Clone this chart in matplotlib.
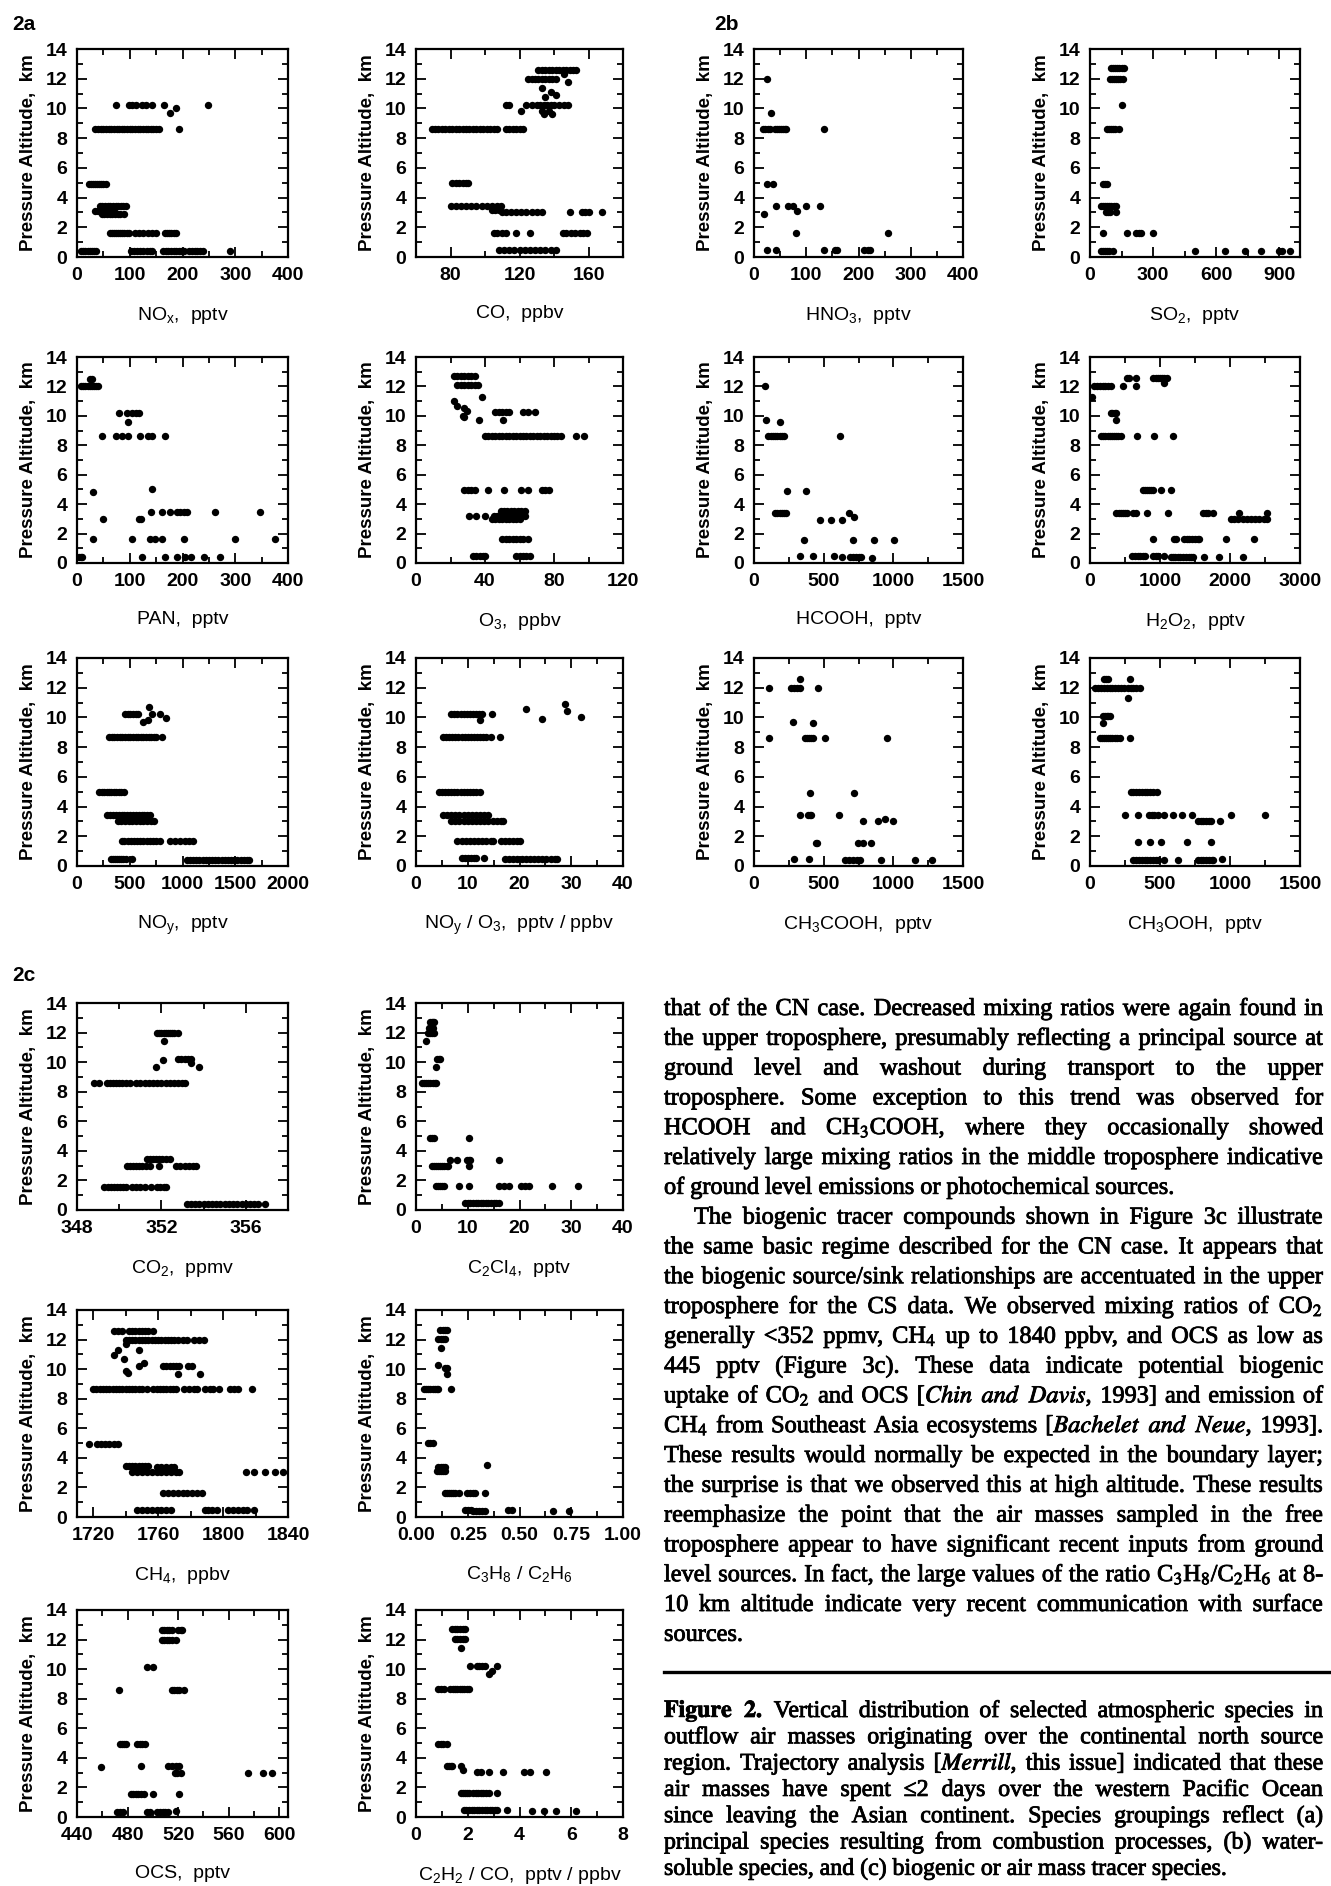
import matplotlib
matplotlib.use('Agg')
import matplotlib.pyplot as plt
import matplotlib.patheffects as pe
from matplotlib.ticker import MultipleLocator, FormatStrFormatter
from matplotlib.lines import Line2D

plt.rcParams['font.family'] = ['Liberation Sans', 'DejaVu Sans']

# ---- data: (pressure altitude km, [mixing ratios at that altitude]) ----
NOX = [
    (10.2, [73, 98, 104, 112, 124, 130, 143, 165, 248]),
    (10.0, [187]), (9.7, [176]),
    (8.6, [35, 40, 45, 50, 55, 60, 65, 70, 75, 80, 85, 90, 95, 100, 105, 110, 115, 120, 125,
           130, 135, 140, 145, 150, 155, 194]),
    (4.9, [22, 26, 30, 34, 38, 42, 46, 50, 55]),
    (3.45, [43, 48, 53, 58, 63, 68, 73, 78, 83, 88, 93]),
    (3.1, [35, 40, 45, 50, 55, 60, 65, 70]),
    (2.9, [47, 52, 57, 62, 67, 72, 77, 82, 89]),
    (1.6, [62, 66, 70, 74, 78, 82, 86, 90, 94, 98, 110, 118, 126, 134, 142, 150, 167, 171, 175,
           179, 183, 187]),
    (0.4, [8, 12, 16, 20, 24, 28, 32, 36, 102, 108, 114, 120, 126, 132, 138, 143, 163, 168, 173,
           178, 183, 188, 193, 198, 203, 213, 218, 223, 228, 233, 238, 290]),
]
CO = [
    (12.6, [131, 133, 135, 137, 139, 141, 143, 145, 147, 149, 151, 153]),
    (12.0, [125, 127, 129, 131, 133, 135, 137, 139, 141]),
    (12.3, [146]), (11.8, [148]), (11.4, [133]), (11.1, [138]), (10.8, [135]), (10.9, [141]),
    (10.2, [112, 114, 124, 127, 130, 132, 134, 136, 138, 140, 143, 146, 148]),
    (9.8, [121, 133, 137]), (9.65, [134, 139]),
    (8.6, [69, 71, 73, 75, 77, 79, 81, 83, 85, 87, 89, 91, 93, 95, 97, 99, 101, 103, 105, 107,
           112, 114, 116, 118, 120, 122]),
    (4.95, [81, 83, 85, 87, 89, 90]),
    (3.45, [80, 83, 86, 89, 92, 95, 98, 101, 104, 107, 109]),
    (3.15, [104, 106, 108]),
    (3.0, [110, 112, 115, 118, 121, 124, 127, 130, 133, 149, 156, 158, 160, 168]),
    (1.6, [105, 107, 110, 112, 118, 126, 145, 147, 150, 152, 155, 157, 159]),
    (0.5, [108, 111, 114, 117, 120, 123, 126, 129, 132, 135, 138, 141]),
]
HNO3 = [
    (12.0, [24]), (9.7, [32]),
    (8.6, [18, 22, 26, 30, 40, 44, 48, 52, 56, 60, 62, 134]),
    (4.9, [24, 36]),
    (3.4, [42, 66, 74, 100, 127]),
    (3.1, [83]), (2.9, [20]),
    (1.6, [81, 256]),
    (0.45, [24, 42, 134, 155, 159, 210, 218, 222]),
]
SO2 = [
    (12.7, [100, 110, 120, 130, 140, 150, 160]),
    (12.0, [94, 104, 114, 124, 134, 144, 155]),
    (10.2, [153]),
    (8.6, [80, 90, 100, 110, 120, 136]),
    (4.9, [63, 70, 80]),
    (3.45, [52, 60, 70, 80, 90, 100, 115, 125]),
    (3.0, [75, 85, 95, 125]),
    (1.6, [63, 174, 220, 232, 244, 300]),
    (0.4, [52, 62, 72, 82, 92, 110, 500, 645, 740, 815, 900, 915, 950]),
]
PAN = [
    (12.5, [25, 29]),
    (12.0, [8, 12, 16, 20, 24, 28, 32, 36, 39]),
    (10.2, [79, 95, 104, 112, 118]),
    (9.6, [97]),
    (8.6, [48, 73, 85, 97, 120, 135, 143, 166]),
    (5.0, [143]), (4.85, [31]),
    (3.45, [141, 161, 176, 190, 196, 203, 209, 261, 346]),
    (3.0, [49, 118, 121]),
    (1.6, [31, 104, 138, 147, 161, 203, 300, 376]),
    (0.4, [4, 7, 9, 124, 166, 190, 205, 217, 241, 271]),
]
O3 = [
    (12.7, [22, 24, 26, 28, 30, 32, 34]),
    (12.1, [24, 26, 28, 30, 32, 34, 36]),
    (11.3, [38.5]), (11.0, [22]), (10.7, [24]), (10.5, [28]), (10.3, [29.5]), (9.9, [28]),
    (10.0, [27]), (9.7, [36.5, 50.5]),
    (10.25, [46, 48, 50, 52, 54, 62, 65, 69]),
    (8.6, [40, 42, 44, 46, 48, 50, 52, 54, 56, 58, 60, 62, 64, 66, 68, 70, 72, 74, 76, 78, 80,
           82, 84, 92.5, 97.5]),
    (4.95, [28, 30, 32, 34, 42, 51, 61, 65, 73, 75, 77]),
    (3.2, [31, 35, 40, 45, 47, 49, 51, 53, 55, 57, 59, 61, 63]),
    (3.5, [49, 51, 53, 55, 57, 59, 61, 63]),
    (3.0, [44, 46, 48, 50, 52, 54, 56, 58, 60]),
    (1.6, [50, 52, 54, 56, 58, 60, 62, 65]),
    (0.5, [33, 35, 37, 39, 40, 58, 60, 62, 64, 66]),
]
HCOOH = [
    (12.0, [82]), (9.75, [89]), (9.6, [190]),
    (8.6, [104, 120, 136, 152, 168, 184, 200, 215, 620]),
    (4.9, [237, 373]),
    (3.4, [152, 168, 184, 200, 216, 231, 684]),
    (3.15, [715]),
    (2.95, [475, 554, 633]),
    (1.55, [358, 712, 864, 1006]),
    (0.5, [332, 573]), (0.45, [421]),
    (0.4, [633, 690, 710, 730, 750, 770]),
    (0.35, [848]),
]
H2O2 = [
    (11.3, [31]),
    (12.05, [62, 100, 140, 180, 220, 260, 300, 470]),
    (12.6, [530, 560, 656, 906, 940, 970, 1000, 1030, 1060, 1094]),
    (12.0, [656]), (12.2, [1062]),
    (10.2, [294, 320, 350, 375]), (9.7, [375]),
    (8.6, [156, 190, 220, 250, 280, 310, 340, 370, 400, 437, 675, 919, 1187]),
    (4.95, [750, 780, 810, 840, 870, 906, 1019, 1156]),
    (3.4, [375, 410, 440, 470, 500, 531, 612, 656, 812, 1112, 1612, 1650, 1690, 1750, 2125, 2531]),
    (3.0, [2019, 2060, 2120, 2180, 2240, 2300, 2360, 2420, 2480, 2531]),
    (1.6, [906, 1200, 1230, 1340, 1380, 1420, 1460, 1500, 1540, 1562, 1937, 2344]),
    (0.45, [606, 640, 680, 720, 760, 781, 906, 940, 969, 1062]),
    (0.4, [1156, 1190, 1220, 1250, 1290, 1330, 1370, 1410, 1440, 1469, 1625, 1844, 2187]),
]
NOY = [
    (10.2, [454, 480, 505, 530, 555, 577, 711, 788]),
    (10.7, [685]), (9.8, [673]), (9.7, [623]), (9.95, [846]),
    (8.65, [308, 330, 355, 380, 405, 430, 455, 480, 505, 530, 555, 580, 605, 630, 655, 680, 705,
            730, 750, 808]),
    (4.95, [212, 235, 258, 281, 304, 327, 350, 373, 396, 419, 442]),
    (3.45, [288, 315, 342, 369, 396, 423, 450, 477, 504, 531, 558, 585, 612, 639, 666, 692]),
    (3.05, [385, 420, 455, 490, 525, 560, 595, 630, 665, 700, 731]),
    (1.65, [423, 450, 480, 510, 540, 570, 600, 630, 660, 690, 720, 750, 788, 885, 930, 975, 1020,
            1060, 1096]),
    (0.5, [319, 340, 360, 380, 400, 420, 440, 462, 519]),
    (0.4, [1038, 1070, 1100, 1130, 1160, 1190, 1220, 1250, 1280, 1310, 1340, 1370, 1400, 1430,
           1460, 1490, 1520, 1550, 1580, 1610, 1635]),
]
NOY_O3 = [
    (10.2, [6.8, 7.4, 8.0, 8.6, 9.2, 9.8, 10.4, 11.0, 11.6, 12.2, 12.8, 14.6]),
    (9.8, [12.4]), (10.6, [21.2]), (9.9, [24.4]), (10.9, [28.8]), (10.4, [29.2]), (10.05, [31.8]),
    (8.65, [5.2, 5.8, 6.4, 7.0, 7.6, 8.2, 8.8, 9.4, 10.0, 10.6, 11.2, 11.8, 12.4, 13.0, 13.6,
            14.4, 16.2]),
    (4.95, [4.4, 5.0, 5.6, 6.2, 6.8, 7.4, 8.0, 8.6, 9.2, 9.8, 10.4, 11.0, 11.6, 12.4]),
    (3.45, [5.2, 6.0, 6.8, 7.6, 8.4, 9.2, 10.0, 10.8, 11.6, 12.4, 13.2, 14.0]),
    (3.05, [6.8, 7.6, 8.4, 9.2, 10.0, 10.8, 11.6, 12.4, 13.2, 14.0, 14.8, 15.6, 16.4, 16.8]),
    (1.65, [8.0, 8.8, 9.6, 10.4, 11.2, 12.0, 12.8, 13.6, 14.4, 14.8, 16.4, 17.2, 18.0, 18.8,
            19.6, 20.0]),
    (0.55, [8.8, 9.4, 10.0, 10.6, 11.2, 11.6, 13.2]),
    (0.45, [17.2, 18.0, 18.8, 19.6, 20.4, 21.2, 22.0, 22.8, 23.6, 24.4, 25.2, 26.0, 26.8, 27.2]),
]
CH3COOH = [
    (12.6, [331]),
    (12.0, [108, 268, 290, 310, 331, 459]),
    (9.7, [283]), (9.6, [420]),
    (8.6, [108, 363, 380, 395, 410, 427, 506, 952]),
    (4.9, [401, 720]),
    (3.4, [331, 389, 400, 411, 611]),
    (3.0, [783, 889, 1000]), (3.15, [943]),
    (1.55, [443, 450, 745, 783, 841]),
    (0.45, [287, 395]),
    (0.4, [650, 680, 710, 740, 761, 911, 1153, 1280]),
]
CH3OOH = [
    (12.6, [102, 115, 128, 287]),
    (12.0, [38, 60, 80, 100, 120, 140, 160, 180, 200, 220, 240, 270, 290, 310, 330, 357]),
    (11.3, [271]),
    (10.1, [92, 105, 118, 130, 143]), (9.65, [92]),
    (8.6, [70, 85, 100, 115, 130, 145, 160, 175, 190, 213, 283]),
    (4.95, [293, 310, 330, 350, 370, 390, 410, 430, 450, 478]),
    (3.4, [252, 341, 420, 440, 460, 484, 532, 596, 659, 732, 1010, 1248]),
    (3.0, [771, 790, 810, 830, 850, 866, 930]),
    (1.6, [341, 430, 510, 691, 866]),
    (0.4, [309, 330, 350, 370, 390, 410, 430, 450, 470, 484, 532, 627, 771, 790, 810, 830, 850,
           870, 882]),
    (0.5, [946]),
]
CO2 = [
    (12.0, [351.8, 351.9, 352.0, 352.1, 352.2, 352.3, 352.4, 352.5, 352.6, 352.8]),
    (11.4, [352.1]), (10.15, [352.06]), (9.65, [351.76, 353.8]),
    (10.2, [352.8, 352.95, 353.1, 353.25, 353.4]), (9.95, [353.4]),
    (8.6, [348.8, 349.05, 349.4, 349.55, 349.7, 349.85, 350.0, 350.15, 350.3, 350.5, 350.8,
           351.0, 351.2, 351.4, 351.6, 351.8, 352.0, 352.2, 352.4, 352.6, 352.8, 353.0, 353.1]),
    (3.45, [351.3, 351.45, 351.6, 351.75, 351.9, 352.05, 352.2, 352.4]),
    (3.0, [350.35, 350.5, 350.65, 350.8, 350.95, 351.1, 351.25, 351.45, 351.9, 352.7, 352.9,
           353.1, 353.3, 353.5, 353.65]),
    (1.55, [349.3, 349.45, 349.6, 349.75, 349.9, 350.05, 350.2, 350.3, 350.6, 350.8, 351.0,
            351.2, 351.5, 351.8, 351.95, 352.1, 352.2]),
    (0.4, [353.2, 353.4, 353.6, 353.8, 354.0, 354.2, 354.4, 354.6, 354.8, 355.0, 355.2, 355.4,
           355.6, 355.8, 356.0, 356.2, 356.4, 356.6, 356.9]),
]
C2CL4 = [
    (12.7, [2.7, 3.0, 3.3, 3.5]),
    (12.0, [2.3, 2.7, 3.1, 3.5]),
    (12.3, [2.5, 3.3]), (11.4, [2.0]),
    (10.2, [4.1, 4.4, 4.7]), (9.7, [3.9]),
    (8.6, [1.2, 1.6, 2.0, 2.4, 2.8, 3.2, 3.6, 3.9]),
    (4.9, [2.7, 3.1, 3.5, 10.2]),
    (3.4, [6.5, 8.0, 9.8, 10.2, 10.5, 16.0]),
    (3.0, [3.1, 3.5, 3.9, 4.3, 4.7, 5.1, 5.5, 5.9, 6.25, 10.2]),
    (1.6, [3.9, 4.3, 4.7, 5.1, 5.5, 8.4, 10.2, 16.0, 17.0, 18.0, 20.3, 21.0, 21.9, 26.2, 31.3]),
    (0.45, [9.5, 10.0, 10.5, 11.0, 11.5, 12.0, 12.5, 13.0, 13.5, 14.0, 14.5, 15.0, 15.5, 16.0]),
]
CH4 = [
    (12.6, [1733, 1735, 1738, 1742, 1744, 1746, 1748, 1750, 1752, 1754, 1757]),
    (12.0, [1740, 1742, 1744, 1746, 1748, 1750, 1752, 1754, 1756, 1758, 1760, 1762, 1764, 1766,
            1768, 1770, 1772, 1775, 1778, 1782, 1785, 1788]),
    (10.95, [1733]), (11.3, [1735, 1748]), (10.7, [1739]), (11.7, [1740]), (9.9, [1740]),
    (9.75, [1741.6]), (10.4, [1751]),
    (10.2, [1748, 1763, 1765, 1767, 1769, 1771, 1773, 1778.5, 1781]),
    (9.7, [1772, 1785.6]),
    (8.65, [1720, 1722, 1724, 1726, 1728, 1730, 1732, 1734, 1736, 1738, 1740, 1742, 1744, 1746,
            1748, 1750, 1753, 1757, 1759, 1761, 1763, 1765, 1767, 1769, 1771, 1776, 1779, 1782,
            1784, 1789, 1792, 1794, 1797.6, 1804, 1806.6, 1809, 1818]),
    (4.97, [1717.5, 1722.5, 1725, 1727.5, 1730, 1732.5, 1735]),
    (3.43, [1740, 1742, 1744, 1746, 1748, 1750, 1752, 1754]),
    (3.35, [1759, 1762, 1765, 1768, 1769.6]),
    (3.05, [1744, 1747, 1750, 1753, 1756, 1759, 1762, 1765, 1768, 1771, 1773, 1814, 1819, 1826,
            1832, 1837]),
    (1.63, [1763, 1766, 1769, 1772, 1775, 1778, 1781, 1784, 1787]),
    (0.45, [1747, 1750, 1753, 1756, 1759, 1762, 1765, 1768, 1803, 1806, 1809, 1812, 1815, 1819]),
    (0.5, [1789, 1791, 1793, 1796]),
]
C3H8_C2H6 = [
    (12.65, [0.118, 0.13, 0.14, 0.148]),
    (12.05, [0.108, 0.12, 0.13, 0.138]),
    (11.4, [0.122]), (10.25, [0.108]), (10.1, [0.138, 0.148]), (9.7, [0.148]),
    (8.65, [0.04, 0.05, 0.06, 0.07, 0.08, 0.09, 0.1, 0.108, 0.167]),
    (5.0, [0.06, 0.07, 0.08]),
    (3.4, [0.108, 0.12, 0.13, 0.138]), (3.55, [0.344]),
    (3.1, [0.1, 0.11, 0.12, 0.13, 0.138]),
    (1.65, [0.138, 0.15, 0.16, 0.17, 0.18, 0.19, 0.207, 0.246, 0.26, 0.275, 0.285, 0.335]),
    (0.5, [0.236, 0.25, 0.266, 0.443, 0.463]),
    (0.4, [0.276, 0.29, 0.305, 0.32, 0.335, 0.66, 0.738]),
]
OCS = [
    (12.65, [507, 509, 511, 513, 515, 520, 522, 523]),
    (12.0, [507, 509, 511, 513, 515, 518]),
    (10.15, [495.6, 500.5]),
    (8.6, [473.3, 515, 517, 519, 521, 525]),
    (4.92, [473.7, 475.5, 477.5, 479, 487.4, 489.5, 491.5, 494]),
    (3.35, [459]),
    (3.43, [491, 512, 515, 518, 521]),
    (3.0, [517.5, 519.5, 522, 575.6, 587, 594]),
    (1.58, [482.5, 484.5, 486.5, 488.5, 490.5, 493, 500.5, 521]),
    (0.35, [472, 474, 476.6, 495.6, 498, 503.7, 506, 508, 510, 512]),
    (0.4, [518.4]),
]
C2H2_CO = [
    (12.7, [1.41, 1.5, 1.6, 1.7, 1.8, 1.88]),
    (12.05, [1.49, 1.6, 1.7, 1.8, 1.88]),
    (11.4, [1.73]),
    (10.2, [2.07, 2.35, 2.45, 2.55, 2.67, 3.14]),
    (9.7, [2.82]), (9.9, [2.95]),
    (8.65, [0.86, 0.95, 1.1, 1.33, 1.42, 1.51, 1.6, 1.69, 1.78, 1.87, 1.96, 2.04]),
    (4.97, [0.86, 0.95, 1.05, 1.18]),
    (3.45, [1.18, 1.27, 1.35, 1.41, 1.73]), (3.2, [1.8]),
    (3.05, [2.35, 2.51, 2.82, 3.37, 4.16, 4.39, 5.02]),
    (1.65, [1.73, 1.8, 1.88, 1.96, 2.04, 2.2, 2.3, 2.4, 2.5, 2.6, 2.7, 2.82, 3.14]),
    (0.5, [1.85, 1.95, 2.05, 2.15, 2.25, 2.35, 2.45, 2.55, 2.65, 2.75, 2.85, 2.95, 3.05, 3.14]),
    (0.45, [3.53]),
    (0.4, [4.47, 4.94, 5.41, 6.2]),
]

BODY = [
    "that of the CN case. Decreased mixing ratios were again found in",
    "the upper troposphere, presumably reflecting a principal source at",
    "ground level and washout during transport to the upper",
    "troposphere. Some exception to this trend was observed for",
    "HCOOH and CH$_3$COOH, where they occasionally showed",
    "relatively large mixing ratios in the middle troposphere indicative",
    "of ground level emissions or photochemical sources.",
    "The biogenic tracer compounds shown in Figure 3c illustrate",
    "the same basic regime described for the CN case. It appears that",
    "the biogenic source/sink relationships are accentuated in the upper",
    "troposphere for the CS data. We observed mixing ratios of CO$_2$",
    "generally <352 ppmv, CH$_4$ up to 1840 ppbv, and OCS as low as",
    "445 pptv (Figure 3c). These data indicate potential biogenic",
    r"uptake of CO$_2$ and OCS [$\mathit{Chin}$ $\mathit{and}$ $\mathit{Davis}$, 1993] and emission of",
    r"CH$_4$ from Southeast Asia ecosystems [$\mathit{Bachelet}$ $\mathit{and}$ $\mathit{Neue}$, 1993].",
    "These results would normally be expected in the boundary layer;",
    "the surprise is that we observed this at high altitude. These results",
    "reemphasize the point that the air masses sampled in the free",
    "troposphere appear to have significant recent inputs from ground",
    "level sources. In fact, the large values of the ratio C$_3$H$_8$/C$_2$H$_6$ at 8-",
    "10 km altitude indicate very recent communication with surface",
    "sources.",
]
CAPTION = [
    r"$\mathbf{Figure}$ $\mathbf{2.}$ Vertical distribution of selected atmospheric species in",
    "outflow air masses originating over the continental north source",
    r"region. Trajectory analysis [$\mathit{Merrill}$, this issue] indicated that these",
    "air masses have spent \u22642 days over the western Pacific Ocean",
    "since leaving the Asian continent. Species groupings reflect (a)",
    "principal species resulting from combustion processes, (b) water-",
    "soluble species, and (c) biogenic or air mass tracer species.",
]

# ---- layout (pixels of the 1331x1886 page) ----
W, H = 1331, 1886
COLS = [(77, 288), (416, 623), (754, 963), (1090, 1300)]
ROWS = [(49, 257), (357, 563), (658, 866), (1003, 1210), (1310, 1517), (1610, 1817)]

# data, col, row, xlim, major, minor, label, fmt
PANELS = [
    (NOX, 0, 0, (0, 400), 100, 50, 'NO$_\\mathregular{x}$,  pptv', None),
    (CO, 1, 0, (60, 180), 40, 20, 'CO,  ppbv', None),
    (HNO3, 2, 0, (0, 400), 100, 50, 'HNO$_\\mathregular{3}$,  pptv', None),
    (SO2, 3, 0, (0, 1000), 300, 150, 'SO$_\\mathregular{2}$,  pptv', None),
    (PAN, 0, 1, (0, 400), 100, 50, 'PAN,  pptv', None),
    (O3, 1, 1, (0, 120), 40, 20, 'O$_\\mathregular{3}$,  ppbv', None),
    (HCOOH, 2, 1, (0, 1500), 500, 250, 'HCOOH,  pptv', None),
    (H2O2, 3, 1, (0, 3000), 1000, 500, 'H$_\\mathregular{2}$O$_\\mathregular{2}$,  pptv', None),
    (NOY, 0, 2, (0, 2000), 500, 250, 'NO$_\\mathregular{y}$,  pptv', None),
    (NOY_O3, 1, 2, (0, 40), 10, 5, 'NO$_\\mathregular{y}$ / O$_\\mathregular{3}$,  pptv / ppbv', None),
    (CH3COOH, 2, 2, (0, 1500), 500, 250, 'CH$_\\mathregular{3}$COOH,  pptv', None),
    (CH3OOH, 3, 2, (0, 1500), 500, 250, 'CH$_\\mathregular{3}$OOH,  pptv', None),
    (CO2, 0, 3, (348, 358), 4, 2, 'CO$_\\mathregular{2}$,  ppmv', None),
    (C2CL4, 1, 3, (0, 40), 10, 5, 'C$_\\mathregular{2}$Cl$_\\mathregular{4}$,  pptv', None),
    (CH4, 0, 4, (1710, 1840), 40, 20, 'CH$_\\mathregular{4}$,  ppbv', None),
    (C3H8_C2H6, 1, 4, (0, 1), 0.25, 0.125,
     'C$_\\mathregular{3}$H$_\\mathregular{8}$ / C$_\\mathregular{2}$H$_\\mathregular{6}$', '%.2f'),
    (OCS, 0, 5, (440, 607), 40, 20, 'OCS,  pptv', None),
    (C2H2_CO, 1, 5, (0, 8), 2, 1, 'C$_\\mathregular{2}$H$_\\mathregular{2}$ / CO,  pptv / ppbv', None),
]

fig = plt.figure(figsize=(W / 100, H / 100), dpi=100)
axes = []

for data, c, r, xlim, major, minor, label, fmt in PANELS:
    x0, x1 = COLS[c]
    top, bot = ROWS[r]
    ax = fig.add_axes([x0 / W, 1 - bot / H, (x1 - x0) / W, (bot - top) / H])
    for alt, vals in data:
        ax.plot(vals, [alt] * len(vals), 'o', ms=5.3, color='k', mew=0)
    ax.set_xlim(*xlim)
    ax.set_ylim(0, 14)
    ax.xaxis.set_major_locator(MultipleLocator(major))
    ax.xaxis.set_minor_locator(MultipleLocator(minor))
    ax.yaxis.set_major_locator(MultipleLocator(2))
    ax.yaxis.set_minor_locator(MultipleLocator(1))
    if fmt:
        ax.xaxis.set_major_formatter(FormatStrFormatter(fmt))
    ax.tick_params(which='both', direction='in', top=True, right=True, width=1.3,
                   labelsize=14, pad=7)
    ax.tick_params(which='major', length=7)
    ax.tick_params(which='minor', length=4)
    for s in ax.spines.values():
        s.set_linewidth(1.6)
    ax.set_ylabel('Pressure Altitude,  km', fontsize=13.5, fontweight='bold', labelpad=6)
    ax.set_xlabel(label, fontsize=14, labelpad=15)
    axes.append(ax)

# tick labels in bold (ticks exist after a first draw)
fig.canvas.draw()
for ax in axes:
    for lab in ax.get_xticklabels() + ax.get_yticklabels():
        lab.set_fontweight('bold')

fig.text(12 / W, 1 - 24 / H, '2a', fontsize=15, fontweight='bold', va='center')
fig.text(714 / W, 1 - 24 / H, '2b', fontsize=15, fontweight='bold', va='center')
fig.text(12 / W, 1 - 975 / H, '2c', fontsize=15, fontweight='bold', va='center')

# ---- justified text column ----
SERIF = ['Liberation Serif', 'DejaVu Serif']
INK = [pe.withStroke(linewidth=0.6, foreground='k')]
rend = fig.canvas.get_renderer()


def put_lines(lines, x0, x1, base0, step, size, ends, indents, indent=30):
    for i, line in enumerate(lines):
        words = line.split()
        left = x0 + (indent if i in indents else 0)
        fs = size
        arts = [fig.text(0, 0, w, fontsize=fs, family=SERIF, math_fontfamily='stix',
                         va='baseline', path_effects=INK) for w in words]
        widths = [a.get_window_extent(renderer=rend).width for a in arts]
        space = fs * 0.25 * 100 / 72
        natural = sum(widths) + 0.7 * space * (len(words) - 1)
        if natural > x1 - left:
            k = (x1 - left) / natural
            fs = size * k
            for a in arts:
                a.set_fontsize(fs)
            widths = [w * k for w in widths]
            space *= k
        if i in ends or len(words) < 2:
            gap = space
        else:
            gap = (x1 - left - sum(widths)) / (len(words) - 1)
        x = left
        y = 1 - (base0 + i * step) / H
        for a, w in zip(arts, widths):
            a.set_position((x / W, y))
            x += w + gap


put_lines(BODY, 664, 1323, 1015, 29.8, 17.5, {6, 21}, {7})
fig.add_artist(Line2D([664 / W, 1331 / W], [1 - 1672 / H] * 2, lw=2.4, color='k'))
put_lines(CAPTION, 664, 1323, 1717, 26.3, 17.2, {6}, set())

fig.savefig('out.png', dpi=100)
